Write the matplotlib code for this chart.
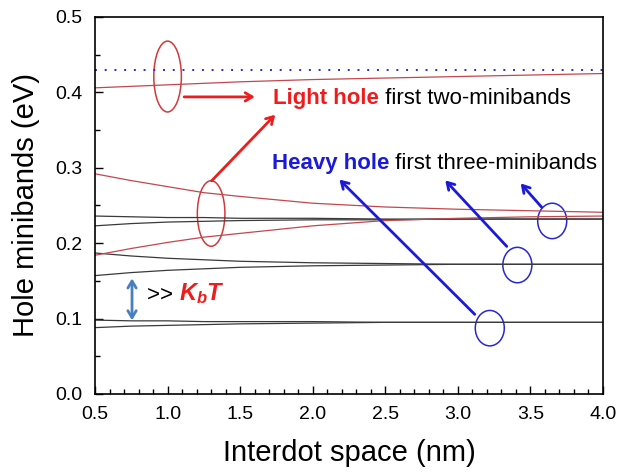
"""Hole minibands vs interdot space, with light/heavy hole annotations."""

import matplotlib
matplotlib.use("Agg")
import matplotlib.pyplot as plt
from matplotlib.patches import Ellipse
from matplotlib.ticker import MultipleLocator

plt.rcParams["font.family"] = ["Liberation Sans", "DejaVu Sans"]
plt.rcParams["mathtext.fontset"] = "custom"
plt.rcParams["mathtext.it"] = "Liberation Sans:italic:bold"
plt.rcParams["mathtext.rm"] = "Liberation Sans:bold"

# interdot spacing (nm)
interdot = [0.5, 0.75, 1.0, 1.25, 1.5, 2.0, 2.5, 3.0, 3.5, 4.0]

# light hole minibands (eV)
lh_top = [0.406, 0.408, 0.410, 0.412, 0.414, 0.417, 0.419, 0.421, 0.423, 0.425]
lh_upper = [0.292, 0.283, 0.275, 0.267, 0.262, 0.253, 0.248, 0.245, 0.243, 0.241]
lh_lower = [0.184, 0.193, 0.201, 0.208, 0.213, 0.223, 0.230, 0.233, 0.235, 0.236]

# heavy hole minibands (eV), pairs that merge at large spacing
hh3_upper = [0.236, 0.235, 0.234, 0.234, 0.233, 0.233, 0.232, 0.232, 0.232, 0.232]
hh3_lower = [0.223, 0.226, 0.228, 0.229, 0.230, 0.231, 0.231, 0.232, 0.232, 0.232]
hh2_upper = [0.187, 0.183, 0.180, 0.178, 0.176, 0.174, 0.173, 0.172, 0.172, 0.172]
hh2_lower = [0.157, 0.161, 0.164, 0.166, 0.168, 0.170, 0.171, 0.172, 0.172, 0.172]
hh1_upper = [0.098, 0.097, 0.097, 0.096, 0.096, 0.096, 0.095, 0.095, 0.095, 0.095]
hh1_lower = [0.088, 0.090, 0.091, 0.092, 0.093, 0.094, 0.095, 0.095, 0.095, 0.095]

barrier_level = 0.43

red_line = "#c4474f"
red_txt = "#ee1c1c"
blue = "#1a1ad8"
steel = "#4a7fbf"

fig = plt.figure(figsize=(6.23, 4.74), dpi=100)
ax = fig.add_axes([0.1525, 0.1688, 0.8154, 0.7954])

for band in (hh3_upper, hh3_lower, hh2_upper, hh2_lower, hh1_upper, hh1_lower):
    ax.plot(interdot, band, color="#3a3a3a", lw=0.9)
for band in (lh_top, lh_upper, lh_lower):
    ax.plot(interdot, band, color=red_line, lw=0.9)
ax.axhline(barrier_level, color="#2b2bd0", lw=1.4, ls=(0, (1, 4)))

ax.set_xlim(0.5, 4.0)
ax.set_ylim(0.0, 0.5)
ax.xaxis.set_major_locator(MultipleLocator(0.5))
ax.xaxis.set_minor_locator(MultipleLocator(0.1))
ax.yaxis.set_major_locator(MultipleLocator(0.1))
ax.yaxis.set_minor_locator(MultipleLocator(0.05))
ax.tick_params(which="both", direction="in", top=False, right=False, width=1.0)
ax.tick_params(which="major", length=6, labelsize=14)
ax.tick_params(axis="x", which="major", pad=8.5)
ax.tick_params(axis="y", which="major", pad=9)
ax.tick_params(which="minor", length=3.5)
for s in ax.spines.values():
    s.set_linewidth(1.2)
ax.set_xlabel("Interdot space (nm)", fontsize=21, labelpad=12)
ax.set_ylabel("Hole minibands (eV)", fontsize=21, labelpad=11)

# light hole markers
ax.add_patch(Ellipse((1.0, 0.421), 0.19, 0.094, fill=False, ec="#d03a3a", lw=1.1))
ax.add_patch(Ellipse((1.30, 0.2394), 0.19, 0.087, fill=False, ec="#d03a3a", lw=1.1))
arrow_red = dict(arrowstyle="->,head_length=0.5,head_width=0.3", color=red_txt, lw=2)
ax.annotate("", xy=(1.62, 0.394), xytext=(1.095, 0.394), arrowprops=arrow_red)
ax.annotate("", xy=(1.755, 0.373), xytext=(1.29, 0.280), arrowprops=arrow_red)

t1 = ax.text(1.727, 0.392, "Light hole", color=red_txt, fontsize=16,
             fontweight="bold", va="center")
ax.annotate(" first two-minibands", xy=(1, 0), xycoords=t1, va="bottom",
            fontsize=16, color="black")

t2 = ax.text(1.72, 0.3056, "Heavy hole", color=blue, fontsize=16,
             fontweight="bold", va="center")
ax.annotate(" first three-minibands", xy=(1, 0), xycoords=t2, va="bottom",
            fontsize=16, color="black")

# heavy hole markers
arrow_blue = dict(arrowstyle="->,head_length=0.5,head_width=0.3", color=blue, lw=2)
for cx, cy, tx, ty, hx, hy in [
    (3.22, 0.0873, 3.13, 0.103, 2.17, 0.287),
    (3.41, 0.171, 3.35, 0.193, 2.90, 0.286),
    (3.65, 0.2295, 3.59, 0.245, 3.42, 0.282),
]:
    ax.annotate("", xy=(hx, hy), xytext=(tx, ty), arrowprops=arrow_blue)
    ax.add_patch(Ellipse((cx, cy), 0.2, 0.047, fill=False, ec="#2828d0", lw=1.1))

# spacing >> kT
ax.annotate("", xy=(0.755, 0.094), xytext=(0.755, 0.157),
            arrowprops=dict(arrowstyle="<->,head_length=0.5,head_width=0.3",
                            color=steel, lw=2))
t3 = ax.text(0.86, 0.130, ">> ", fontsize=16, color="black", va="center")
ax.annotate(r"$K_bT$", xy=(1, 0), xycoords=t3, va="bottom", fontsize=17,
            color=red_txt)

fig.savefig("out.png", dpi=100)
